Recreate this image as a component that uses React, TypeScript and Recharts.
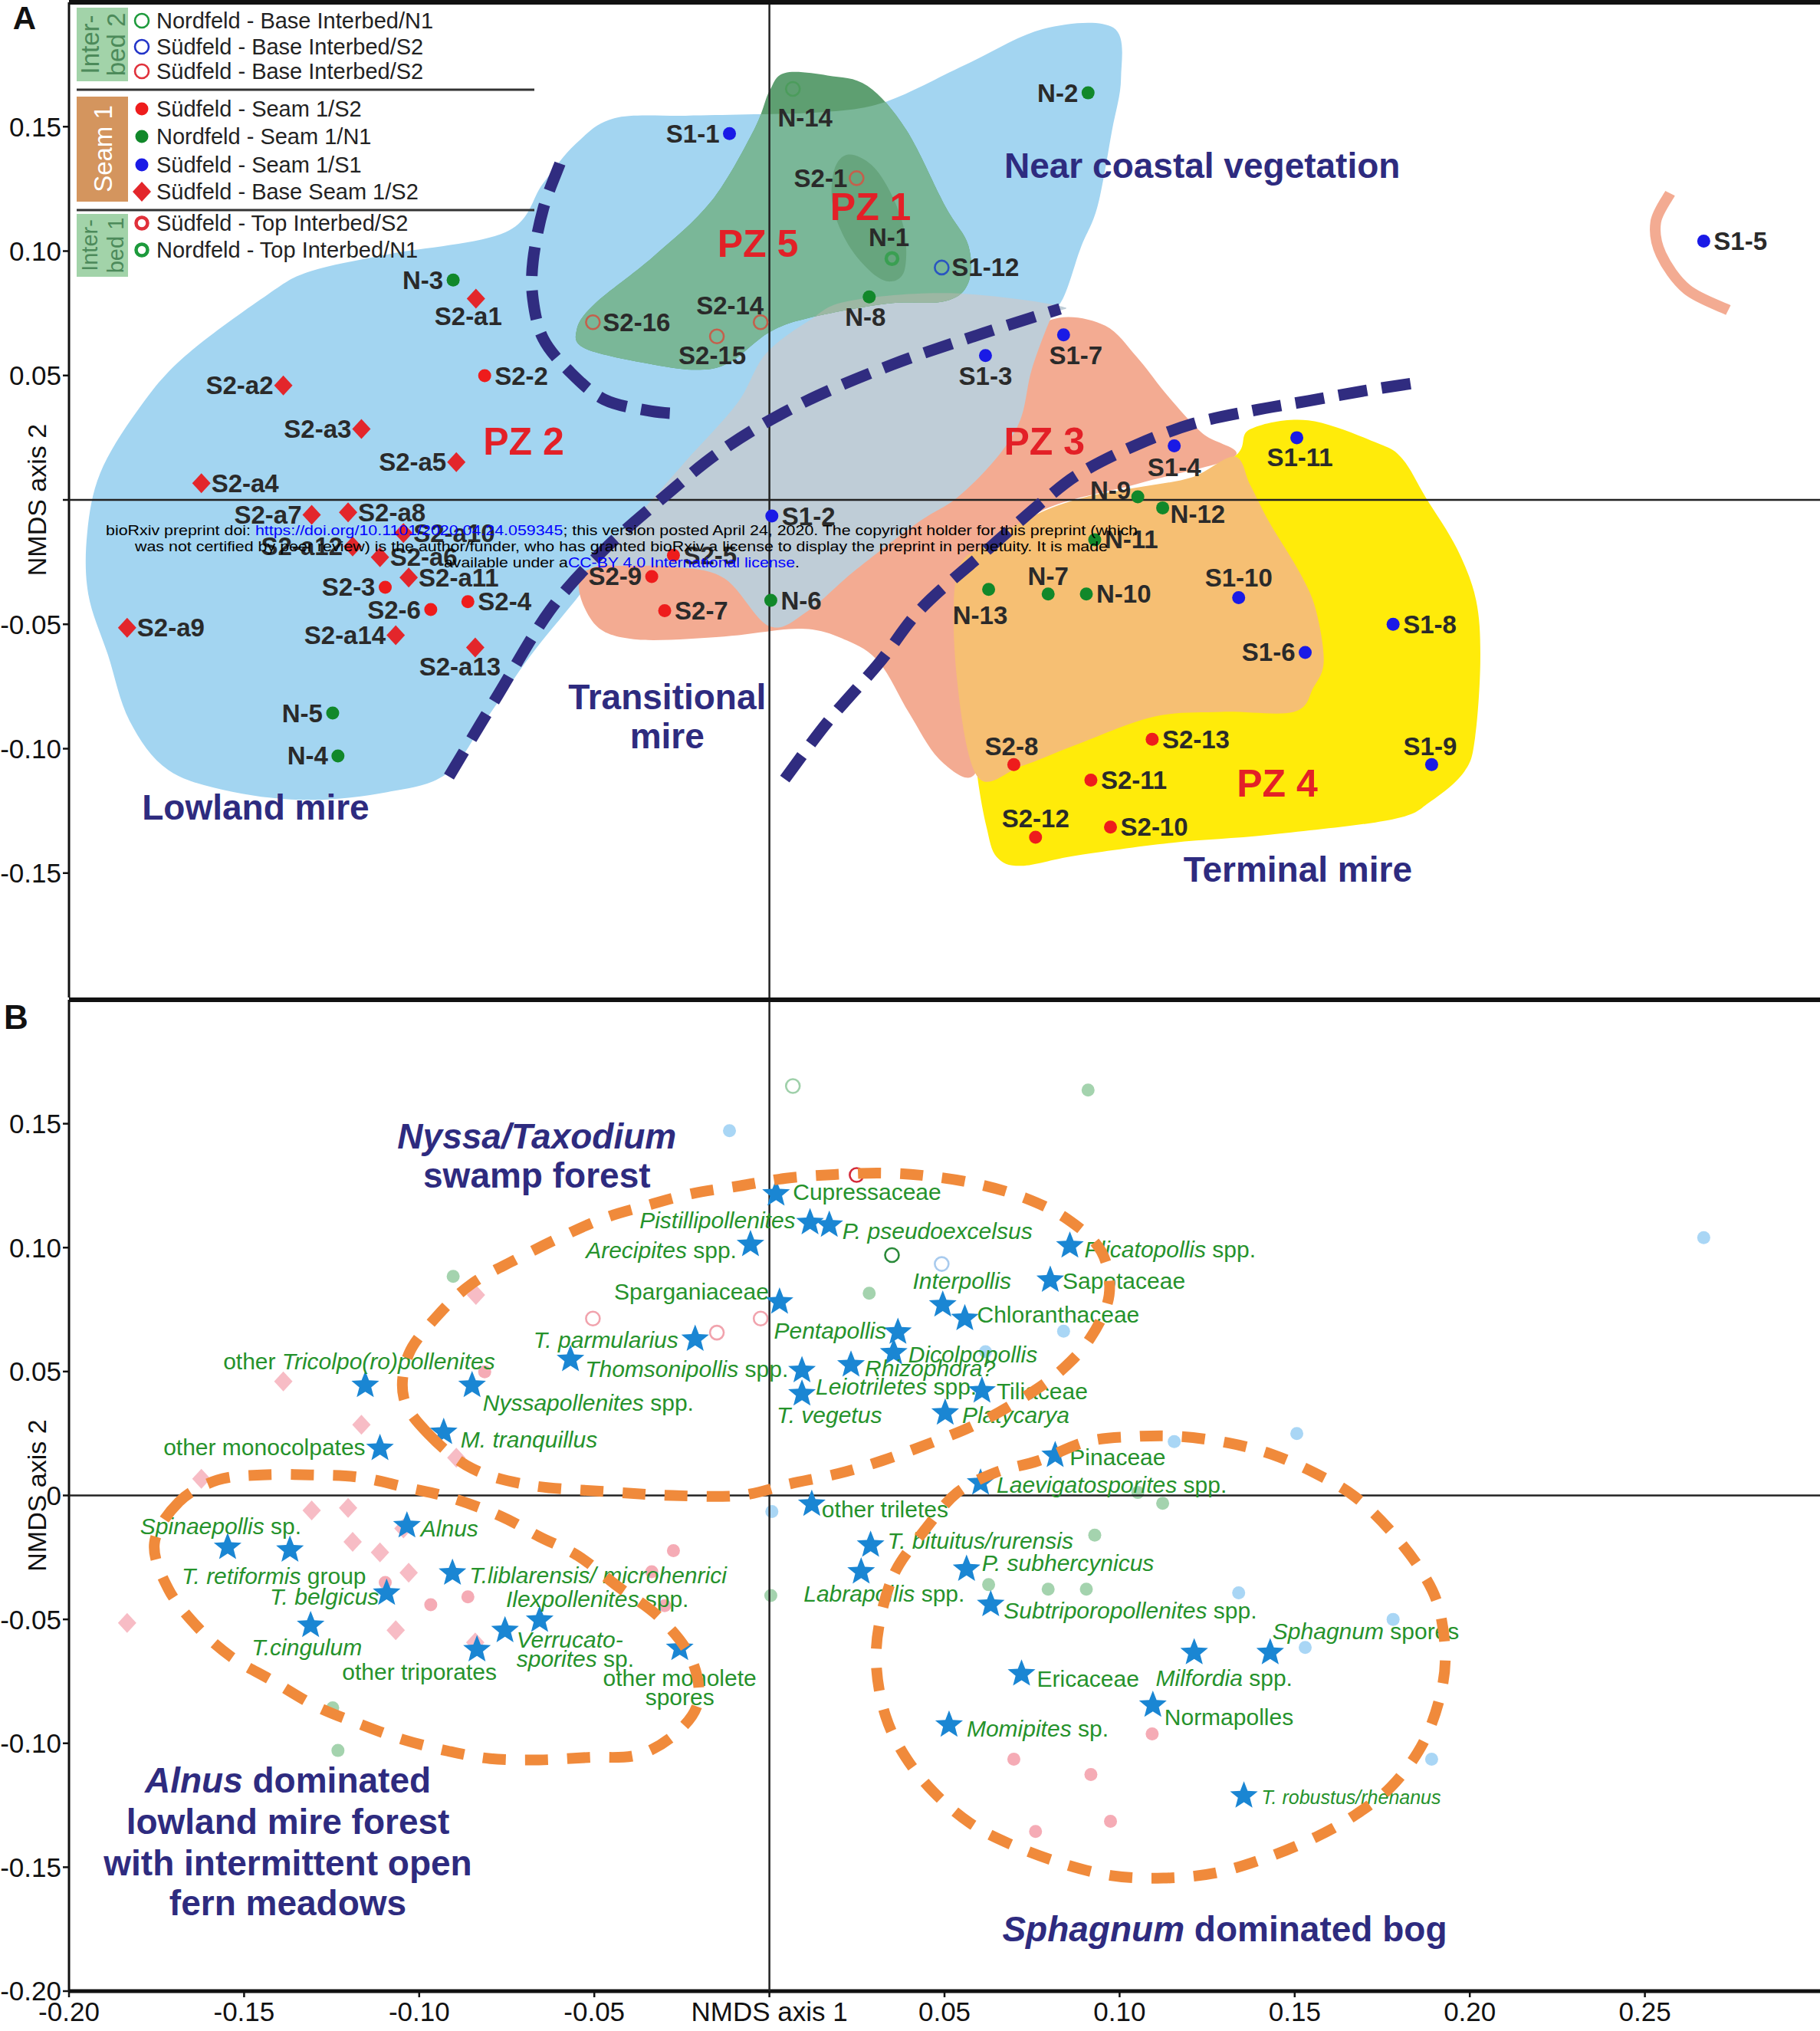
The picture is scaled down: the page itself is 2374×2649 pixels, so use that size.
import React from 'react';
import { ScatterChart, Scatter, XAxis, YAxis, ReferenceLine, Legend } from 'recharts';

const FONT = "'Liberation Sans', Arial, Helvetica, sans-serif";

type Pt = { x: number; y: number; name?: string };
const pts = (a: number[][]): Pt[] => a.map(([x, y]) => ({ x, y }));

// ================= Panel A : sample scores =================
const seam1S2: Pt[] = [
  { name: 'S2-2', x: -0.0813, y: 0.0499 }, { name: 'S2-3', x: -0.1097, y: -0.0351 },
  { name: 'S2-4', x: -0.0861, y: -0.0409 }, { name: 'S2-5', x: -0.0274, y: -0.0223 },
  { name: 'S2-6', x: -0.0967, y: -0.0441 }, { name: 'S2-7', x: -0.0299, y: -0.0445 },
  { name: 'S2-8', x: 0.0698, y: -0.1064 }, { name: 'S2-9', x: -0.0336, y: -0.0308 },
  { name: 'S2-10', x: 0.0974, y: -0.1315 }, { name: 'S2-11', x: 0.0918, y: -0.1126 },
  { name: 'S2-12', x: 0.076, y: -0.1356 }, { name: 'S2-13', x: 0.1093, y: -0.0962 },
];
const seam1N1: Pt[] = [
  { name: 'N-2', x: 0.091, y: 0.1636 }, { name: 'N-3', x: -0.0903, y: 0.0884 },
  { name: 'N-4', x: -0.1232, y: -0.1029 }, { name: 'N-5', x: -0.1247, y: -0.0857 },
  { name: 'N-6', x: 0.0004, y: -0.0404 }, { name: 'N-7', x: 0.0796, y: -0.0378 },
  { name: 'N-8', x: 0.0285, y: 0.0816 }, { name: 'N-9', x: 0.1052, y: 0.0012 },
  { name: 'N-10', x: 0.0905, y: -0.0378 }, { name: 'N-11', x: 0.0929, y: -0.016 },
  { name: 'N-12', x: 0.1123, y: -0.0032 }, { name: 'N-13', x: 0.0626, y: -0.036 },
];
const seam1S1: Pt[] = [
  { name: 'S1-1', x: -0.0114, y: 0.1472 }, { name: 'S1-2', x: 0.0007, y: -0.0065 },
  { name: 'S1-3', x: 0.0617, y: 0.058 }, { name: 'S1-4', x: 0.1156, y: 0.0217 },
  { name: 'S1-5', x: 0.2668, y: 0.104 }, { name: 'S1-6', x: 0.153, y: -0.0613 },
  { name: 'S1-7', x: 0.084, y: 0.0663 }, { name: 'S1-8', x: 0.1781, y: -0.05 },
  { name: 'S1-9', x: 0.1891, y: -0.1064 }, { name: 'S1-10', x: 0.134, y: -0.0393 },
  { name: 'S1-11', x: 0.1506, y: 0.025 },
];
const baseSeam1S2: Pt[] = [
  { name: 'S2-a1', x: -0.0838, y: 0.0809 }, { name: 'S2-a2', x: -0.1388, y: 0.046 },
  { name: 'S2-a3', x: -0.1165, y: 0.0285 }, { name: 'S2-a4', x: -0.1622, y: 0.0067 },
  { name: 'S2-a5', x: -0.0894, y: 0.0152 }, { name: 'S2-a6', x: -0.1112, y: -0.023 },
  { name: 'S2-a7', x: -0.1307, y: -0.006 }, { name: 'S2-a8', x: -0.1203, y: -0.005 },
  { name: 'S2-a9', x: -0.1834, y: -0.0514 }, { name: 'S2-a10', x: -0.1045, y: -0.0133 },
  { name: 'S2-a11', x: -0.103, y: -0.0312 }, { name: 'S2-a12', x: -0.119, y: -0.0187 },
  { name: 'S2-a13', x: -0.084, y: -0.0593 }, { name: 'S2-a14', x: -0.1067, y: -0.0544 },
];
const baseInterbedN1: Pt[] = [{ name: 'N-14', x: 0.0067, y: 0.1652 }];
const baseInterbedS2Blue: Pt[] = [{ name: 'S1-12', x: 0.0492, y: 0.0934 }];
const baseInterbedS2Red: Pt[] = [
  { name: 'S2-14', x: -0.0025, y: 0.0714 }, { name: 'S2-15', x: -0.015, y: 0.0657 },
  { name: 'S2-16', x: -0.0504, y: 0.0714 },
];
const topInterbedS2: Pt[] = [{ name: 'S2-1', x: 0.0249, y: 0.1293 }];
const topInterbedN1: Pt[] = [{ name: 'N-1', x: 0.035, y: 0.097 }];

// ================= Panel A : zones (outline vertices) =================
const zoneBlue = pts([[-0.1889,-0.0622],[-0.1827,-0.0888],[-0.1716,-0.1086],[-0.1531,-0.1174],[-0.131,-0.1206],[-0.1089,-0.1174],[-0.0923,-0.1102],[-0.0812,-0.0888],[-0.0683,-0.0628],[-0.0554,-0.0404],[-0.0461,-0.0237],[-0.0277,-0.0081],[0.0092,0.0284],[0.0461,0.0544],[0.0756,0.0753],[0.083,0.0789],[0.0889,0.1013],[0.0937,0.118],[0.0978,0.1482],[0.1004,0.1695],[0.0982,0.1898],[0.0782,0.1893],[0.0557,0.1747],[0.0336,0.1602],[0.0166,0.156],[-0.0066,0.1549],[-0.024,0.1544],[-0.0443,0.1534],[-0.0554,0.143],[-0.0646,0.1273],[-0.0753,0.1076],[-0.1089,0.0987],[-0.131,0.0919],[-0.1432,0.0826],[-0.1675,0.057],[-0.1808,0.0352],[-0.1911,0.0107],[-0.1948,-0.0133],[-0.1945,-0.0378]]);
const zoneSalmon = pts([[-0.0528,-0.0289],[-0.0506,-0.0487],[-0.0387,-0.056],[-0.0129,-0.0549],[0.0092,-0.0518],[0.0221,-0.0565],[0.0314,-0.0654],[0.0399,-0.0857],[0.0483,-0.1039],[0.0579,-0.1112],[0.0609,-0.0914],[0.0572,-0.0341],[0.0756,-0.006],[0.1052,0.0065],[0.1328,0.0174],[0.1236,0.0268],[0.1137,0.0419],[0.1048,0.0576],[0.0959,0.07],[0.0827,0.0732],[0.072,0.0638],[0.0535,0.0336],[0.0351,0.0023],[0.0166,-0.0185],[-0.0018,-0.0289],[-0.0277,-0.0237]]);
const zoneGrey = pts([[0.083,0.0779],[0.0513,0.0831],[0.0225,0.0799],[0.0114,0.0721],[-0.0011,0.0586],[-0.0092,0.0388],[-0.024,0.0154],[-0.0387,-0.0081],[-0.0506,-0.0247],[-0.0277,-0.0268],[-0.0129,-0.0315],[0,-0.0508],[0.0111,-0.0445],[0.024,-0.0289],[0.0424,-0.0091],[0.0535,0.0008],[0.0646,0.0164],[0.0716,0.032],[0.0749,0.0523],[0.0804,0.0732]]);
const zoneYellow = pts([[0.1328,0.0174],[0.1373,0.0284],[0.1539,0.032],[0.1738,0.0227],[0.1808,0.0164],[0.1875,0.0008],[0.1963,-0.0195],[0.2018,-0.0404],[0.203,-0.0648],[0.2015,-0.0956],[0.1985,-0.1091],[0.1889,-0.1211],[0.1779,-0.1284],[0.1428,-0.1346],[0.1151,-0.1378],[0.0875,-0.143],[0.072,-0.1471],[0.0649,-0.1435],[0.062,-0.1315],[0.0594,-0.1112],[0.0572,-0.081],[0.0756,-0.0341],[0.1125,0.0023]]);
const zoneOrange = pts([[0.1328,0.0174],[0.1207,0.0091],[0.1048,0.0049],[0.0893,0.0008],[0.076,-0.006],[0.0624,-0.0174],[0.0535,-0.0299],[0.0535,-0.0711],[0.0594,-0.1112],[0.072,-0.107],[0.0871,-0.0987],[0.1096,-0.0872],[0.1292,-0.0852],[0.1498,-0.0852],[0.1554,-0.0753],[0.1583,-0.0648],[0.1561,-0.0445],[0.1517,-0.0299],[0.1428,-0.0091],[0.1373,0.006]]);
const zonePZ5 = pts([[0.0044,0.1716],[0.0166,0.1706],[0.028,0.1664],[0.0391,0.1487],[0.0502,0.118],[0.0568,0.1023],[0.0568,0.0872],[0.0502,0.0799],[0.0336,0.0789],[0.0114,0.0732],[0,0.0674],[-0.0111,0.0555],[-0.0199,0.0523],[-0.0332,0.0544],[-0.0524,0.0607],[-0.055,0.0685],[-0.0498,0.0789],[-0.0332,0.0977],[-0.0166,0.12],[-0.0044,0.1487],[0,0.1643]]);
const zonePZ1 = pts([[0.0225,0.1388],[0.0292,0.1346],[0.0347,0.1232],[0.0386,0.1078],[0.0386,0.0924],[0.0347,0.0878],[0.0292,0.0914],[0.0225,0.1026],[0.0181,0.118],[0.0185,0.1326]]);
const arcS15 = pts([[0.2572,0.1232],[0.2531,0.1117],[0.2546,0.0987],[0.262,0.0846],[0.2738,0.0763]]);
const boundaryPZ5 = pts([[-0.0598,0.1352],[-0.0646,0.1169],[-0.0675,0.0961],[-0.0675,0.0805],[-0.0646,0.0648],[-0.0572,0.0518],[-0.0472,0.0404],[-0.0339,0.0357],[-0.0247,0.0346]]);
const boundaryTransitional = pts([[-0.0915,-0.1112],[-0.0775,-0.0784],[-0.0627,-0.0445],[-0.048,-0.0211],[-0.0314,-0.0003],[-0.0129,0.0206],[0.0092,0.0388],[0.0351,0.0544],[0.0609,0.0669],[0.083,0.0768]]);
const boundaryTerminal = pts([[0.0044,-0.1122],[0.0166,-0.0893],[0.0314,-0.0654],[0.0435,-0.0435],[0.0627,-0.0195],[0.0793,0.0008],[0.0893,0.0112],[0.1048,0.0221],[0.1207,0.0305],[0.1373,0.0357],[0.1539,0.0398],[0.1705,0.044],[0.1849,0.0471]]);

const annotationsA = [
  { x: 0.1236, y: 0.1344, text: 'Near coastal vegetation', kind: 'group' },
  { x: -0.0292, y: -0.0792, text: 'Transitional', kind: 'group' },
  { x: -0.0292, y: -0.0949, text: 'mire', kind: 'group' },
  { x: -0.1467, y: -0.1236, text: 'Lowland mire', kind: 'group' },
  { x: 0.1509, y: -0.1485, text: 'Terminal mire', kind: 'group' },
  { x: 0.0289, y: 0.1177, text: 'PZ 1', kind: 'pz' },
  { x: -0.0033, y: 0.1029, text: 'PZ 5', kind: 'pz' },
  { x: -0.0702, y: 0.0234, text: 'PZ 2', kind: 'pz' },
  { x: 0.0785, y: 0.0234, text: 'PZ 3', kind: 'pz' },
  { x: 0.145, y: -0.114, text: 'PZ 4', kind: 'pz' },
];

// ================= Panel B : taxa scores =================
const taxa = [
  { taxon: 'Cupressaceae', x: 0.0019, y: 0.1217 },
  { taxon: '*Pistillipollenites*', x: 0.0116, y: 0.1101 },
  { taxon: '*P. pseudoexcelsus*', x: 0.0171, y: 0.1091 },
  { taxon: '*Arecipites* spp.', x: -0.0054, y: 0.1013 },
  { taxon: '*Plicatopollis* spp.', x: 0.0858, y: 0.1007 },
  { taxon: 'Sapotaceae', x: 0.0802, y: 0.0869 },
  { taxon: '*Interpollis*', x: 0.0495, y: 0.0769 },
  { taxon: 'Chloranthaceae', x: 0.0558, y: 0.0714 },
  { taxon: 'Sparganiaceae', x: 0.0029, y: 0.0781 },
  { taxon: '*Pentapollis*', x: 0.0367, y: 0.0659 },
  { taxon: '*T. parmularius*', x: -0.0212, y: 0.0631 },
  { taxon: '*Thomsonipollis* spp.', x: -0.0568, y: 0.0549 },
  { taxon: '*Dicolpopollis*', x: 0.0355, y: 0.0576 },
  { taxon: '*Rhizophora?*', x: 0.0233, y: 0.0527 },
  { taxon: '*Leiotriletes* spp.', x: 0.0093, y: 0.0504 },
  { taxon: '*T. vegetus*', x: 0.0093, y: 0.041 },
  { taxon: 'Tiliaceae', x: 0.0607, y: 0.0422 },
  { taxon: '*Platycarya*', x: 0.0502, y: 0.0333 },
  { taxon: 'other *Tricolpo(ro)pollenites*', x: -0.1154, y: 0.0444 },
  { taxon: '*Nyssapollenites* spp.', x: -0.0849, y: 0.0444 },
  { taxon: '*M. tranquillus*', x: -0.093, y: 0.0255 },
  { taxon: 'other monocolpates', x: -0.1112, y: 0.019 },
  { taxon: 'Pinaceae', x: 0.0816, y: 0.0162 },
  { taxon: '*Laevigatosporites* spp.', x: 0.0603, y: 0.0051 },
  { taxon: 'other triletes', x: 0.0121, y: -0.0035 },
  { taxon: '*Alnus*', x: -0.1035, y: -0.0122 },
  { taxon: '*Spinaepollis* sp.', x: -0.1547, y: -0.0209 },
  { taxon: '*T. retiformis* group', x: -0.1369, y: -0.022 },
  { taxon: '*T. belgicus*', x: -0.1093, y: -0.0394 },
  { taxon: '*T.liblarensis/ microhenrici*', x: -0.0905, y: -0.0313 },
  { taxon: '*T.cingulum*', x: -0.131, y: -0.0524 },
  { taxon: 'other triporates', x: -0.0835, y: -0.0622 },
  { taxon: '*Verrucato-*|*sporites* sp.', x: -0.0755, y: -0.0545 },
  { taxon: '*Ilexpollenites* spp.', x: -0.0656, y: -0.0503 },
  { taxon: 'other monolete|spores', x: -0.0256, y: -0.0617 },
  { taxon: '*T. bituitus/rurensis*', x: 0.0289, y: -0.02 },
  { taxon: '*Labrapollis* spp.', x: 0.0262, y: -0.0308 },
  { taxon: '*P. subhercynicus*', x: 0.0563, y: -0.0297 },
  { taxon: '*Subtriporopollenites* spp.', x: 0.0632, y: -0.044 },
  { taxon: '*Sphagnum* spores', x: 0.143, y: -0.0634 },
  { taxon: '*Milfordia* spp.', x: 0.1213, y: -0.0634 },
  { taxon: 'Ericaceae', x: 0.072, y: -0.072 },
  { taxon: 'Normapolles', x: 0.1095, y: -0.0846 },
  { taxon: '*Momipites* sp.', x: 0.0513, y: -0.0926 },
  { taxon: '*T. robustus/rhenanus*', x: 0.1355, y: -0.1212 },
];

const ellipseNyssa = pts([[-0.0974,0.0249],[-0.1044,0.0394],[-0.103,0.057],[-0.0948,0.0725],[-0.0849,0.0855],[-0.0723,0.0953],[-0.0598,0.1041],[-0.0472,0.1119],[-0.0347,0.1171],[-0.0221,0.1218],[-0.0085,0.1249],[0.0048,0.128],[0.0185,0.1295],[0.0321,0.1301],[0.0446,0.129],[0.0587,0.1259],[0.0727,0.1202],[0.0852,0.1114],[0.0948,0.0984],[0.097,0.0808],[0.0915,0.0632],[0.0823,0.0492],[0.0712,0.0383],[0.0587,0.0285],[0.0461,0.0212],[0.0321,0.014],[0.0196,0.0088],[0.0059,0.0047],[-0.0085,0],[-0.0277,0],[-0.0472,0.0016],[-0.0683,0.0041],[-0.0849,0.0109]]);
const ellipseAlnus = pts([[-0.1686,-0.0026],[-0.1756,-0.0192],[-0.1716,-0.0378],[-0.1631,-0.0534],[-0.1535,-0.0653],[-0.1421,-0.0746],[-0.1295,-0.085],[-0.117,-0.0922],[-0.1048,-0.0984],[-0.0919,-0.1031],[-0.0797,-0.1062],[-0.0657,-0.1067],[-0.0517,-0.1057],[-0.0376,-0.1047],[-0.0266,-0.0959],[-0.0203,-0.0829],[-0.0225,-0.0653],[-0.0314,-0.0492],[-0.0432,-0.0368],[-0.0546,-0.0244],[-0.0657,-0.0166],[-0.0768,-0.0083],[-0.0908,-0.001],[-0.1033,0.0031],[-0.117,0.0073],[-0.131,0.0083],[-0.145,0.0083],[-0.1576,0.0062]]);
const ellipseSphagnum = pts([[0.0358,-0.0311],[0.0446,-0.0135],[0.0535,0.001],[0.0646,0.0093],[0.0768,0.014],[0.0908,0.0218],[0.1048,0.0238],[0.1173,0.0238],[0.131,0.0212],[0.1435,0.0166],[0.1561,0.0088],[0.1672,-0.0005],[0.1775,-0.0145],[0.186,-0.0301],[0.1911,-0.0451],[0.193,-0.0653],[0.1911,-0.0834],[0.186,-0.1016],[0.1775,-0.1176],[0.1672,-0.129],[0.1561,-0.1378],[0.1421,-0.1461],[0.1273,-0.1523],[0.1125,-0.1544],[0.0978,-0.1534],[0.083,-0.1482],[0.0683,-0.1404],[0.0572,-0.1321],[0.0469,-0.1197],[0.0387,-0.1052],[0.0332,-0.0891],[0.0306,-0.0699],[0.0314,-0.0518]]);

const annotationsB = [
  { x: -0.0664, y: 0.1449, text: '*Nyssa/Taxodium*' },
  { x: -0.0664, y: 0.1292, text: 'swamp forest' },
  { x: -0.1375, y: -0.1149, text: '*Alnus* dominated' },
  { x: -0.1375, y: -0.1316, text: 'lowland mire forest' },
  { x: -0.1375, y: -0.1483, text: 'with intermittent open' },
  { x: -0.1375, y: -0.1644, text: 'fern meadows' },
  { x: 0.13, y: -0.1749, text: '*Sphagnum* dominated bog' },
];

// ================= axes =================
const xTicks = [-0.2, -0.15, -0.1, -0.05, 0, 0.05, 0.1, 0.15, 0.2, 0.25];
const yTicksA = [-0.15, -0.1, -0.05, 0, 0.05, 0.1, 0.15];
const yTicksB = [-0.2, -0.15, -0.1, -0.05, 0, 0.05, 0.1, 0.15];

const legendRows = [
  { label: 'Nordfeld - Base Interbed/N1', kind: 'ring', color: '#1d9a3c' },
  { label: 'Südfeld - Base Interbed/S2', kind: 'ring', color: '#2234c8' },
  { label: 'Südfeld - Base Interbed/S2', kind: 'ring', color: '#e0303a' },
  { label: 'Südfeld - Seam 1/S2', kind: 'dot', color: '#ee1c1c' },
  { label: 'Nordfeld - Seam 1/N1', kind: 'dot', color: '#11882a' },
  { label: 'Südfeld - Seam 1/S1', kind: 'dot', color: '#1a1ae6' },
  { label: 'Südfeld - Base Seam 1/S2', kind: 'diamond', color: '#e3262b' },
  { label: 'Südfeld - Top Interbed/S2', kind: 'thick', color: '#e0303a' },
  { label: 'Nordfeld - Top Interbed/N1', kind: 'thick', color: '#1d9a3c' },
];

// ================= style tables (not data) =================
type Place = [number, number, 'start' | 'middle' | 'end'];
const L: Place = [-13, 0, 'end'];
const R: Place = [13, 0, 'start'];
const placeA: Record<string, Place> = {
  'S1-1': L, 'N-14': [16, 38, 'middle'], 'S2-1': [-12, 0, 'end'], 'N-1': [-4, -28, 'middle'],
  'N-8': [-5, 26, 'middle'], 'S2-14': [-40, -22, 'middle'], 'S2-15': [-6, 25, 'middle'], 'N-2': L,
  'S1-3': [0, 27, 'middle'], 'S1-7': [16, 27, 'middle'], 'S1-4': [0, 28, 'middle'], 'S1-11': [4, 26, 'middle'],
  'N-9': [-9, -9, 'end'], 'N-12': [10, 8, 'start'], 'N-13': [-11, 34, 'middle'], 'N-7': [0, -23, 'middle'],
  'S1-10': [0, -26, 'middle'], 'S1-6': L, 'S2-8': [-3, -24, 'middle'], 'S2-12': [0, -25, 'middle'],
  'S1-9': [-2, -24, 'middle'], 'S2-9': L, 'N-5': L, 'N-4': L, 'N-3': L, 'S2-a1': [-10, 23, 'middle'],
  'S2-a2': L, 'S2-a3': L, 'S2-a5': L, 'S2-a7': L, 'S2-a12': L, 'S2-a14': L, 'S2-a13': [-20, 25, 'middle'],
  'S2-3': L, 'S2-6': L,
};
const placeB: Record<string, [number, number, 'start' | 'middle' | 'end', number?]> = {
  'Cupressaceae': [22, -3, 'start'], '*Pistillipollenites*': [-19, -4, 'end'], '*P. pseudoexcelsus*': [17, 7, 'start'],
  '*Arecipites* spp.': [-18, 7, 'end'], '*Plicatopollis* spp.': [19, 4, 'start'], 'Sapotaceae': [16, 0, 'start'],
  '*Interpollis*': [25, -32, 'middle'], 'Chloranthaceae': [16, -6, 'start'], 'Sparganiaceae': [-14, -14, 'end'],
  '*Pentapollis*': [-15, -2, 'end'], '*T. parmularius*': [-22, 0, 'end'], '*Thomsonipollis* spp.': [19, 12, 'start'],
  '*Dicolpopollis*': [19, 2, 'start'], '*Rhizophora?*': [18, 4, 'start'], '*Leiotriletes* spp.': [18, 20, 'start'],
  '*T. vegetus*': [-33, 27, 'start'], 'Tiliaceae': [19, 0, 'start'], '*Platycarya*': [22, 2, 'start'],
  'other *Tricolpo(ro)pollenites*': [-8, -32, 'middle'], '*Nyssapollenites* spp.': [14, 22, 'start'],
  '*M. tranquillus*': [22, 9, 'start'], 'other monocolpates': [-19, -2, 'end'], 'Pinaceae': [19, 2, 'start'],
  '*Laevigatosporites* spp.': [21, 2, 'start'], 'other triletes': [13, 6, 'start'], '*Alnus*': [18, 3, 'start'],
  '*Spinaepollis* sp.': [-9, -28, 'middle'], '*T. retiformis* group': [-21, 33, 'middle'], '*T. belgicus*': [-10, 4, 'end'],
  '*T.liblarensis/ microhenrici*': [22, 2, 'start'], '*T.cingulum*': [-5, 28, 'middle'], 'other triporates': [-75, 28, 'middle'],
  '*Verrucato-*|*sporites* sp.': [15, 11, 'start'], '*Ilexpollenites* spp.': [-44, -28, 'start'],
  'other monolete|spores': [0, 38, 'middle'], '*T. bituitus/rurensis*': [22, -6, 'start'], '*Labrapollis* spp.': [30, 28, 'middle'],
  '*P. subhercynicus*': [20, -9, 'start'], '*Subtriporopollenites* spp.': [17, 7, 'start'], '*Sphagnum* spores': [3, -28, 'start'],
  '*Milfordia* spp.': [39, 33, 'middle'], 'Ericaceae': [20, 6, 'start'], 'Normapolles': [15, 15, 'start'],
  '*Momipites* sp.': [23, 4, 'start'], '*T. robustus/rhenanus*': [23, 2, 'start', 25],
};

const C = {
  blue: '#a3d5f1', salmon: '#f3ab92', grey: '#bfcdd7', yellow: '#ffeb0a', orange: '#f6bf73',
  pz5: '#5e9f71', pz5Blue: '#7ab798', pz5Grey: '#9cb7a3', pz1: '#67a57e',
  dash: '#302c80', ellipse: '#f08a3b', navy: '#2e2b7f', pz: '#e32027', lab: '#2a2a2a', taxon: '#25922b', star: '#1a86d3',
};

// ================= geometry helpers =================
type XY = { x: number; y: number };
const valid = (p: any) => p && p.x != null && p.y != null && !isNaN(p.x) && !isNaN(p.y);
function crClosed(p: XY[]) {
  const n = p.length;
  let d = `M${p[0].x},${p[0].y}`;
  for (let i = 0; i < n; i++) {
    const p0 = p[(i - 1 + n) % n], p1 = p[i], p2 = p[(i + 1) % n], p3 = p[(i + 2) % n];
    d += ` C${p1.x + (p2.x - p0.x) / 6},${p1.y + (p2.y - p0.y) / 6} ${p2.x - (p3.x - p1.x) / 6},${p2.y - (p3.y - p1.y) / 6} ${p2.x},${p2.y}`;
  }
  return d + 'Z';
}
function crOpen(p: XY[]) {
  const n = p.length;
  let d = `M${p[0].x},${p[0].y}`;
  for (let i = 0; i < n - 1; i++) {
    const p0 = p[Math.max(i - 1, 0)], p1 = p[i], p2 = p[i + 1], p3 = p[Math.min(i + 2, n - 1)];
    d += ` C${p1.x + (p2.x - p0.x) / 6},${p1.y + (p2.y - p0.y) / 6} ${p2.x - (p3.x - p1.x) / 6},${p2.y - (p3.y - p1.y) / 6} ${p2.x},${p2.y}`;
  }
  return d;
}
const regionLine = (fill: string, clipId?: string, useClip?: string) => (props: any) => {
  const p = (props.points || []).filter(valid);
  if (p.length < 3) return <g />;
  const d = crClosed(p);
  return (
    <g>
      {clipId ? <defs><clipPath id={clipId}><path d={d} /></clipPath></defs> : null}
      <path d={d} fill={fill} stroke="none" clipPath={useClip ? `url(#${useClip})` : undefined} />
    </g>
  );
};
const strokeLine = (stroke: string, width: number, dash: string | undefined, closed: boolean) => (props: any) => {
  const p = (props.points || []).filter(valid);
  if (p.length < 2) return <g />;
  return <path d={closed ? crClosed(p) : crOpen(p)} fill="none" stroke={stroke} strokeWidth={width} strokeDasharray={dash} strokeLinecap="butt" />;
};
const noShape = () => <g />;

function Rich({ x, y, text, anchor, size, fill, weight, gap = 25 }: any) {
  return (
    <>
      {String(text).split('|').map((ln: string, i: number) => (
        <text key={i} x={x} y={y + i * gap} textAnchor={anchor} dominantBaseline="central" fontSize={size}
          fill={fill} fontWeight={weight} fontFamily={FONT} style={{ whiteSpace: 'pre' }}>
          {ln.split('*').map((seg, j) => (seg ? <tspan key={j} fontStyle={j % 2 === 1 ? 'italic' : 'normal'}>{seg}</tspan> : null))}
        </text>
      ))}
    </>
  );
}

function marker(kind: string, cx: number, cy: number, color: string) {
  if (kind === 'dot') return <circle cx={cx} cy={cy} r={8.5} fill={color} />;
  if (kind === 'diamond') return <path d={`M${cx},${cy - 13} L${cx + 12},${cy} L${cx},${cy + 13} L${cx - 12},${cy} Z`} fill={color} />;
  if (kind === 'thick') return <circle cx={cx} cy={cy} r={7.5} fill="none" stroke={color} strokeWidth={4.5} />;
  return <circle cx={cx} cy={cy} r={9} fill="none" stroke={color} strokeWidth={2.6} />;
}
const pointShape = (kind: string, color: string, labelled: boolean) => (props: any) => {
  const { cx, cy, payload } = props;
  if (cx == null || cy == null) return <g />;
  const pl = (payload && placeA[payload.name]) || R;
  return (
    <g>
      {marker(kind, cx, cy, color)}
      {labelled ? (
        <text x={cx + pl[0]} y={cy + pl[1]} textAnchor={pl[2]} dominantBaseline="central" fontSize={33}
          fontWeight="bold" fill={C.lab} fontFamily={FONT}>{payload.name}</text>
      ) : null}
    </g>
  );
};
function starPath(cx: number, cy: number, R1: number, r1: number) {
  let d = '';
  for (let i = 0; i < 10; i++) {
    const a = -Math.PI / 2 + (i * Math.PI) / 5;
    const rr = i % 2 === 0 ? R1 : r1;
    d += `${i === 0 ? 'M' : 'L'}${cx + rr * Math.cos(a)},${cy + rr * Math.sin(a)} `;
  }
  return d + 'Z';
}
const starShape = (props: any) => {
  const { cx, cy, payload } = props;
  if (cx == null || cy == null) return <g />;
  const pl = placeB[payload.taxon] || [18, 0, 'start'];
  return (
    <g>
      <path d={starPath(cx, cy, 19, 8.2)} fill={C.star} />
      <Rich x={cx + pl[0]} y={cy + pl[1]} text={payload.taxon} anchor={pl[2]} size={pl[3] || 30} fill={C.taxon} weight="normal" />
    </g>
  );
};
const annoShapeA = (props: any) => {
  const { cx, cy, payload } = props;
  if (cx == null) return <g />;
  const pz = payload.kind === 'pz';
  return (
    <text x={cx} y={cy} textAnchor="middle" dominantBaseline="central" fontSize={pz ? 50 : 46} fontWeight="bold"
      fill={pz ? C.pz : C.navy} fontFamily={FONT}>{payload.text}</text>
  );
};
const annoShapeB = (props: any) => {
  const { cx, cy, payload } = props;
  if (cx == null) return <g />;
  return <Rich x={cx} y={cy} text={payload.text} anchor="middle" size={46} fill={C.navy} weight="bold" />;
};

function LegendBox() {
  const ys = [27, 61, 93, 142, 178, 215, 250, 291, 326];
  return (
    <svg width={720} height={380} style={{ display: 'block', overflow: 'visible' }}>
      <rect x={100} y={10} width={67} height={96} fill="#a2d3a9" />
      <rect x={100} y={126} width={67} height={137} fill="#d4955e" />
      <rect x={100} y={279} width={67} height={82} fill="#a2d3a9" />
      <g fontFamily={FONT}>
        <text transform="translate(117,58) rotate(-90)" textAnchor="middle" dominantBaseline="central" fontSize={33} fill="#4c8a5a">Inter-</text>
        <text transform="translate(151,58) rotate(-90)" textAnchor="middle" dominantBaseline="central" fontSize={33} fill="#4c8a5a">bed 2</text>
        <text transform="translate(134,194) rotate(-90)" textAnchor="middle" dominantBaseline="central" fontSize={33} fill="#ffffff">Seam 1</text>
        <text transform="translate(117,320) rotate(-90)" textAnchor="middle" dominantBaseline="central" fontSize={29} fill="#4c8a5a">Inter-</text>
        <text transform="translate(151,320) rotate(-90)" textAnchor="middle" dominantBaseline="central" fontSize={29} fill="#4c8a5a">bed 1</text>
      </g>
      <line x1={100} x2={697} y1={117} y2={117} stroke="#333" strokeWidth={3} />
      <line x1={100} x2={697} y1={274} y2={274} stroke="#333" strokeWidth={3} />
      {legendRows.map((r, i) => (
        <g key={i}>
          {marker(r.kind, 185, ys[i], r.color)}
          <text x={204} y={ys[i]} dominantBaseline="central" fontSize={29} fill="#222" fontFamily={FONT}>{r.label}</text>
        </g>
      ))}
    </svg>
  );
}

const tickStyle = { fontSize: 35, fill: '#111', fontFamily: FONT };
const fmtA = (v: number) => (Math.abs(v) < 1e-9 ? '' : v.toFixed(2));
const fmtB = (v: number) => (Math.abs(v) < 1e-9 ? '0' : v.toFixed(2));
const fmtX = (v: number) => (Math.abs(v) < 1e-9 ? 'NMDS axis 1' : v.toFixed(2));
const yLabel = { value: 'NMDS axis 2', angle: -90, position: 'center', dx: 3, fontSize: 34, fill: '#111', fontFamily: FONT };

export default function App() {
  const region = (data: Pt[], fn: any, key: string) => (
    <Scatter key={key} data={data} line={fn} shape={noShape} isAnimationActive={false} legendType="none" zIndex={600} />
  );
  return (
    <div style={{ position: 'absolute', left: 0, top: 0, width: 2374, height: 2649, background: '#fff', fontFamily: FONT }}>
      {/* ---------------- Panel A ---------------- */}
      <div style={{ position: 'absolute', left: 0, top: 0 }}>
        <ScatterChart width={2374} height={1302} margin={{ top: 3, right: 0, bottom: 1, left: 0 }}>
          <XAxis type="number" dataKey="x" domain={[-0.2, 0.3]} ticks={xTicks} hide allowDataOverflow />
          <YAxis type="number" dataKey="y" domain={[-0.2, 0.2]} ticks={yTicksA} interval={0} width={90} tickSize={8} tickMargin={2}
            tick={tickStyle} tickFormatter={fmtA} axisLine={{ stroke: '#111', strokeWidth: 3 }} tickLine={{ stroke: '#111', strokeWidth: 2.5 }}
            allowDataOverflow label={yLabel as any} />
          {region(zoneBlue, regionLine(C.blue), 'blue')}
          {region(zoneSalmon, regionLine(C.salmon), 'salmon')}
          {region(zoneGrey, regionLine(C.grey), 'grey')}
          {region(zoneYellow, regionLine(C.yellow), 'yellow')}
          {region(zoneOrange, regionLine(C.orange), 'orange')}
          {region(zonePZ5, regionLine(C.pz5, 'clipPZ5'), 'pz5')}
          {region(zoneBlue, regionLine(C.pz5Blue, undefined, 'clipPZ5'), 'pz5blue')}
          {region(zoneGrey, regionLine(C.pz5Grey, undefined, 'clipPZ5'), 'pz5grey')}
          {region(zonePZ1, regionLine(C.pz1), 'pz1')}
          <Scatter data={arcS15} line={strokeLine(C.salmon, 14, undefined, false)} shape={noShape} isAnimationActive={false} legendType="none" zIndex={600} />
          <ReferenceLine x={0} stroke="#222" strokeWidth={2.5} zIndex={650} />
          <ReferenceLine y={0} stroke="#222" strokeWidth={2.5} zIndex={650} />
          <ReferenceLine y={0.2} stroke="#111" strokeWidth={6} zIndex={650} />
          <Scatter data={annotationsA} shape={annoShapeA} isAnimationActive={false} legendType="none" zIndex={700} />
          <Scatter name="Nordfeld - Base Interbed/N1" data={baseInterbedN1} shape={pointShape('ring', '#4c9c5c', true)} isAnimationActive={false} zIndex={800} />
          <Scatter name="Südfeld - Base Interbed/S2" data={baseInterbedS2Blue} shape={pointShape('ring', '#2a55c0', true)} isAnimationActive={false} zIndex={800} />
          <Scatter name="Südfeld - Base Interbed/S2 (red)" data={baseInterbedS2Red} shape={pointShape('ring', '#c4604c', true)} isAnimationActive={false} zIndex={800} />
          <Scatter name="Südfeld - Top Interbed/S2" data={topInterbedS2} shape={pointShape('ring', '#c4604c', true)} isAnimationActive={false} zIndex={800} />
          <Scatter name="Nordfeld - Top Interbed/N1" data={topInterbedN1} shape={pointShape('thick', '#3a9f52', true)} isAnimationActive={false} zIndex={800} />
          <Scatter name="Südfeld - Base Seam 1/S2" data={baseSeam1S2} shape={pointShape('diamond', '#e3262b', true)} isAnimationActive={false} zIndex={800} />
          <Scatter name="Südfeld - Seam 1/S2" data={seam1S2} shape={pointShape('dot', '#ee1c1c', true)} isAnimationActive={false} zIndex={800} />
          <Scatter name="Nordfeld - Seam 1/N1" data={seam1N1} shape={pointShape('dot', '#11882a', true)} isAnimationActive={false} zIndex={800} />
          <Scatter name="Südfeld - Seam 1/S1" data={seam1S1} shape={pointShape('dot', '#1a1ae6', true)} isAnimationActive={false} zIndex={800} />
          <Scatter data={boundaryPZ5} line={strokeLine(C.dash, 15, '38 19', false)} shape={noShape} isAnimationActive={false} legendType="none" zIndex={900} />
          <Scatter data={boundaryTransitional} line={strokeLine(C.dash, 15, '38 19', false)} shape={noShape} isAnimationActive={false} legendType="none" zIndex={900} />
          <Scatter data={boundaryTerminal} line={strokeLine(C.dash, 15, '38 19', false)} shape={noShape} isAnimationActive={false} legendType="none" zIndex={900} />
          <Legend content={LegendBox as any} layout="vertical" align="center" verticalAlign="middle"
            wrapperStyle={{ left: 0, top: 0, width: 720, height: 380 }} />
        </ScatterChart>
      </div>

      {/* ---------------- Panel B ---------------- */}
      <div style={{ position: 'absolute', left: 0, top: 1301 }}>
        <ScatterChart width={2374} height={1348} margin={{ top: 3, right: 0, bottom: 0, left: 0 }}>
          <XAxis type="number" dataKey="x" domain={[-0.2, 0.3]} ticks={xTicks} interval={0} height={52} tickSize={8} tickMargin={6}
            tick={tickStyle} tickFormatter={fmtX} axisLine={{ stroke: '#111', strokeWidth: 5 }} tickLine={{ stroke: '#111', strokeWidth: 2.5 }} allowDataOverflow />
          <YAxis type="number" dataKey="y" domain={[-0.2, 0.2]} ticks={yTicksB} interval={0} width={90} tickSize={8} tickMargin={2}
            tick={tickStyle} tickFormatter={fmtB} axisLine={{ stroke: '#111', strokeWidth: 3 }} tickLine={{ stroke: '#111', strokeWidth: 2.5 }}
            allowDataOverflow label={yLabel as any} />
          <ReferenceLine x={0} stroke="#222" strokeWidth={2.5} zIndex={650} />
          <ReferenceLine y={0} stroke="#222" strokeWidth={2.5} zIndex={650} />
          <ReferenceLine y={0.2} stroke="#111" strokeWidth={6} zIndex={650} />
          <Scatter data={baseSeam1S2} shape={pointShape('diamond', '#f7bcc5', false)} isAnimationActive={false} legendType="none" zIndex={600} />
          <Scatter data={seam1S2} shape={pointShape('dot', '#f5abb5', false)} isAnimationActive={false} legendType="none" zIndex={600} />
          <Scatter data={seam1N1} shape={pointShape('dot', '#a4d3ae', false)} isAnimationActive={false} legendType="none" zIndex={600} />
          <Scatter data={seam1S1} shape={pointShape('dot', '#a9d6f5', false)} isAnimationActive={false} legendType="none" zIndex={600} />
          <Scatter data={baseInterbedN1} shape={pointShape('ring', '#9fd0aa', false)} isAnimationActive={false} legendType="none" zIndex={600} />
          <Scatter data={baseInterbedS2Blue} shape={pointShape('ring', '#a9cbee', false)} isAnimationActive={false} legendType="none" zIndex={600} />
          <Scatter data={baseInterbedS2Red} shape={pointShape('ring', '#f1a3ad', false)} isAnimationActive={false} legendType="none" zIndex={600} />
          <Scatter data={topInterbedS2} shape={pointShape('ring', '#d42a3a', false)} isAnimationActive={false} legendType="none" zIndex={600} />
          <Scatter data={topInterbedN1} shape={pointShape('ring', '#2a8a3a', false)} isAnimationActive={false} legendType="none" zIndex={600} />
          <Scatter data={annotationsB} shape={annoShapeB} isAnimationActive={false} legendType="none" zIndex={700} />
          <Scatter name="taxa" data={taxa} shape={starShape} isAnimationActive={false} zIndex={800} />
          <Scatter data={ellipseNyssa} line={strokeLine(C.ellipse, 14, '30 25', true)} shape={noShape} isAnimationActive={false} legendType="none" zIndex={900} />
          <Scatter data={ellipseAlnus} line={strokeLine(C.ellipse, 14, '30 25', true)} shape={noShape} isAnimationActive={false} legendType="none" zIndex={900} />
          <Scatter data={ellipseSphagnum} line={strokeLine(C.ellipse, 14, '30 25', true)} shape={noShape} isAnimationActive={false} legendType="none" zIndex={900} />
        </ScatterChart>
      </div>

      {/* ---------------- panel letters & preprint notice ---------------- */}
      <svg width={2374} height={2649} style={{ position: 'absolute', left: 0, top: 0, pointerEvents: 'none' }}>
        <text x={32} y={23} textAnchor="middle" dominantBaseline="central" fontSize={42} fontWeight="bold" fill="#111" fontFamily={FONT}>A</text>
        <text x={21} y={1326} textAnchor="middle" dominantBaseline="central" fontSize={44} fontWeight="bold" fill="#111" fontFamily={FONT}>B</text>
        <g fontFamily={FONT} fontSize={19} fill="#000">
          <text x={138} y={691} dominantBaseline="central" textLength={1346} lengthAdjust="spacingAndGlyphs">
            bioRxiv preprint doi: <tspan fill="#0000ff">https://doi.org/10.1101/2020.04.24.059345</tspan>; this version posted April 24, 2020. The copyright holder for this preprint (which
          </text>
          <text x={176} y={712} dominantBaseline="central" textLength={1269} lengthAdjust="spacingAndGlyphs">
            was not certified by peer review) is the author/funder, who has granted bioRxiv a license to display the preprint in perpetuity. It is made
          </text>
          <text x={579} y={733} dominantBaseline="central" textLength={464} lengthAdjust="spacingAndGlyphs">
            available under a<tspan fill="#0000ff">CC-BY 4.0 International license</tspan>.
          </text>
        </g>
      </svg>
    </div>
  );
}
